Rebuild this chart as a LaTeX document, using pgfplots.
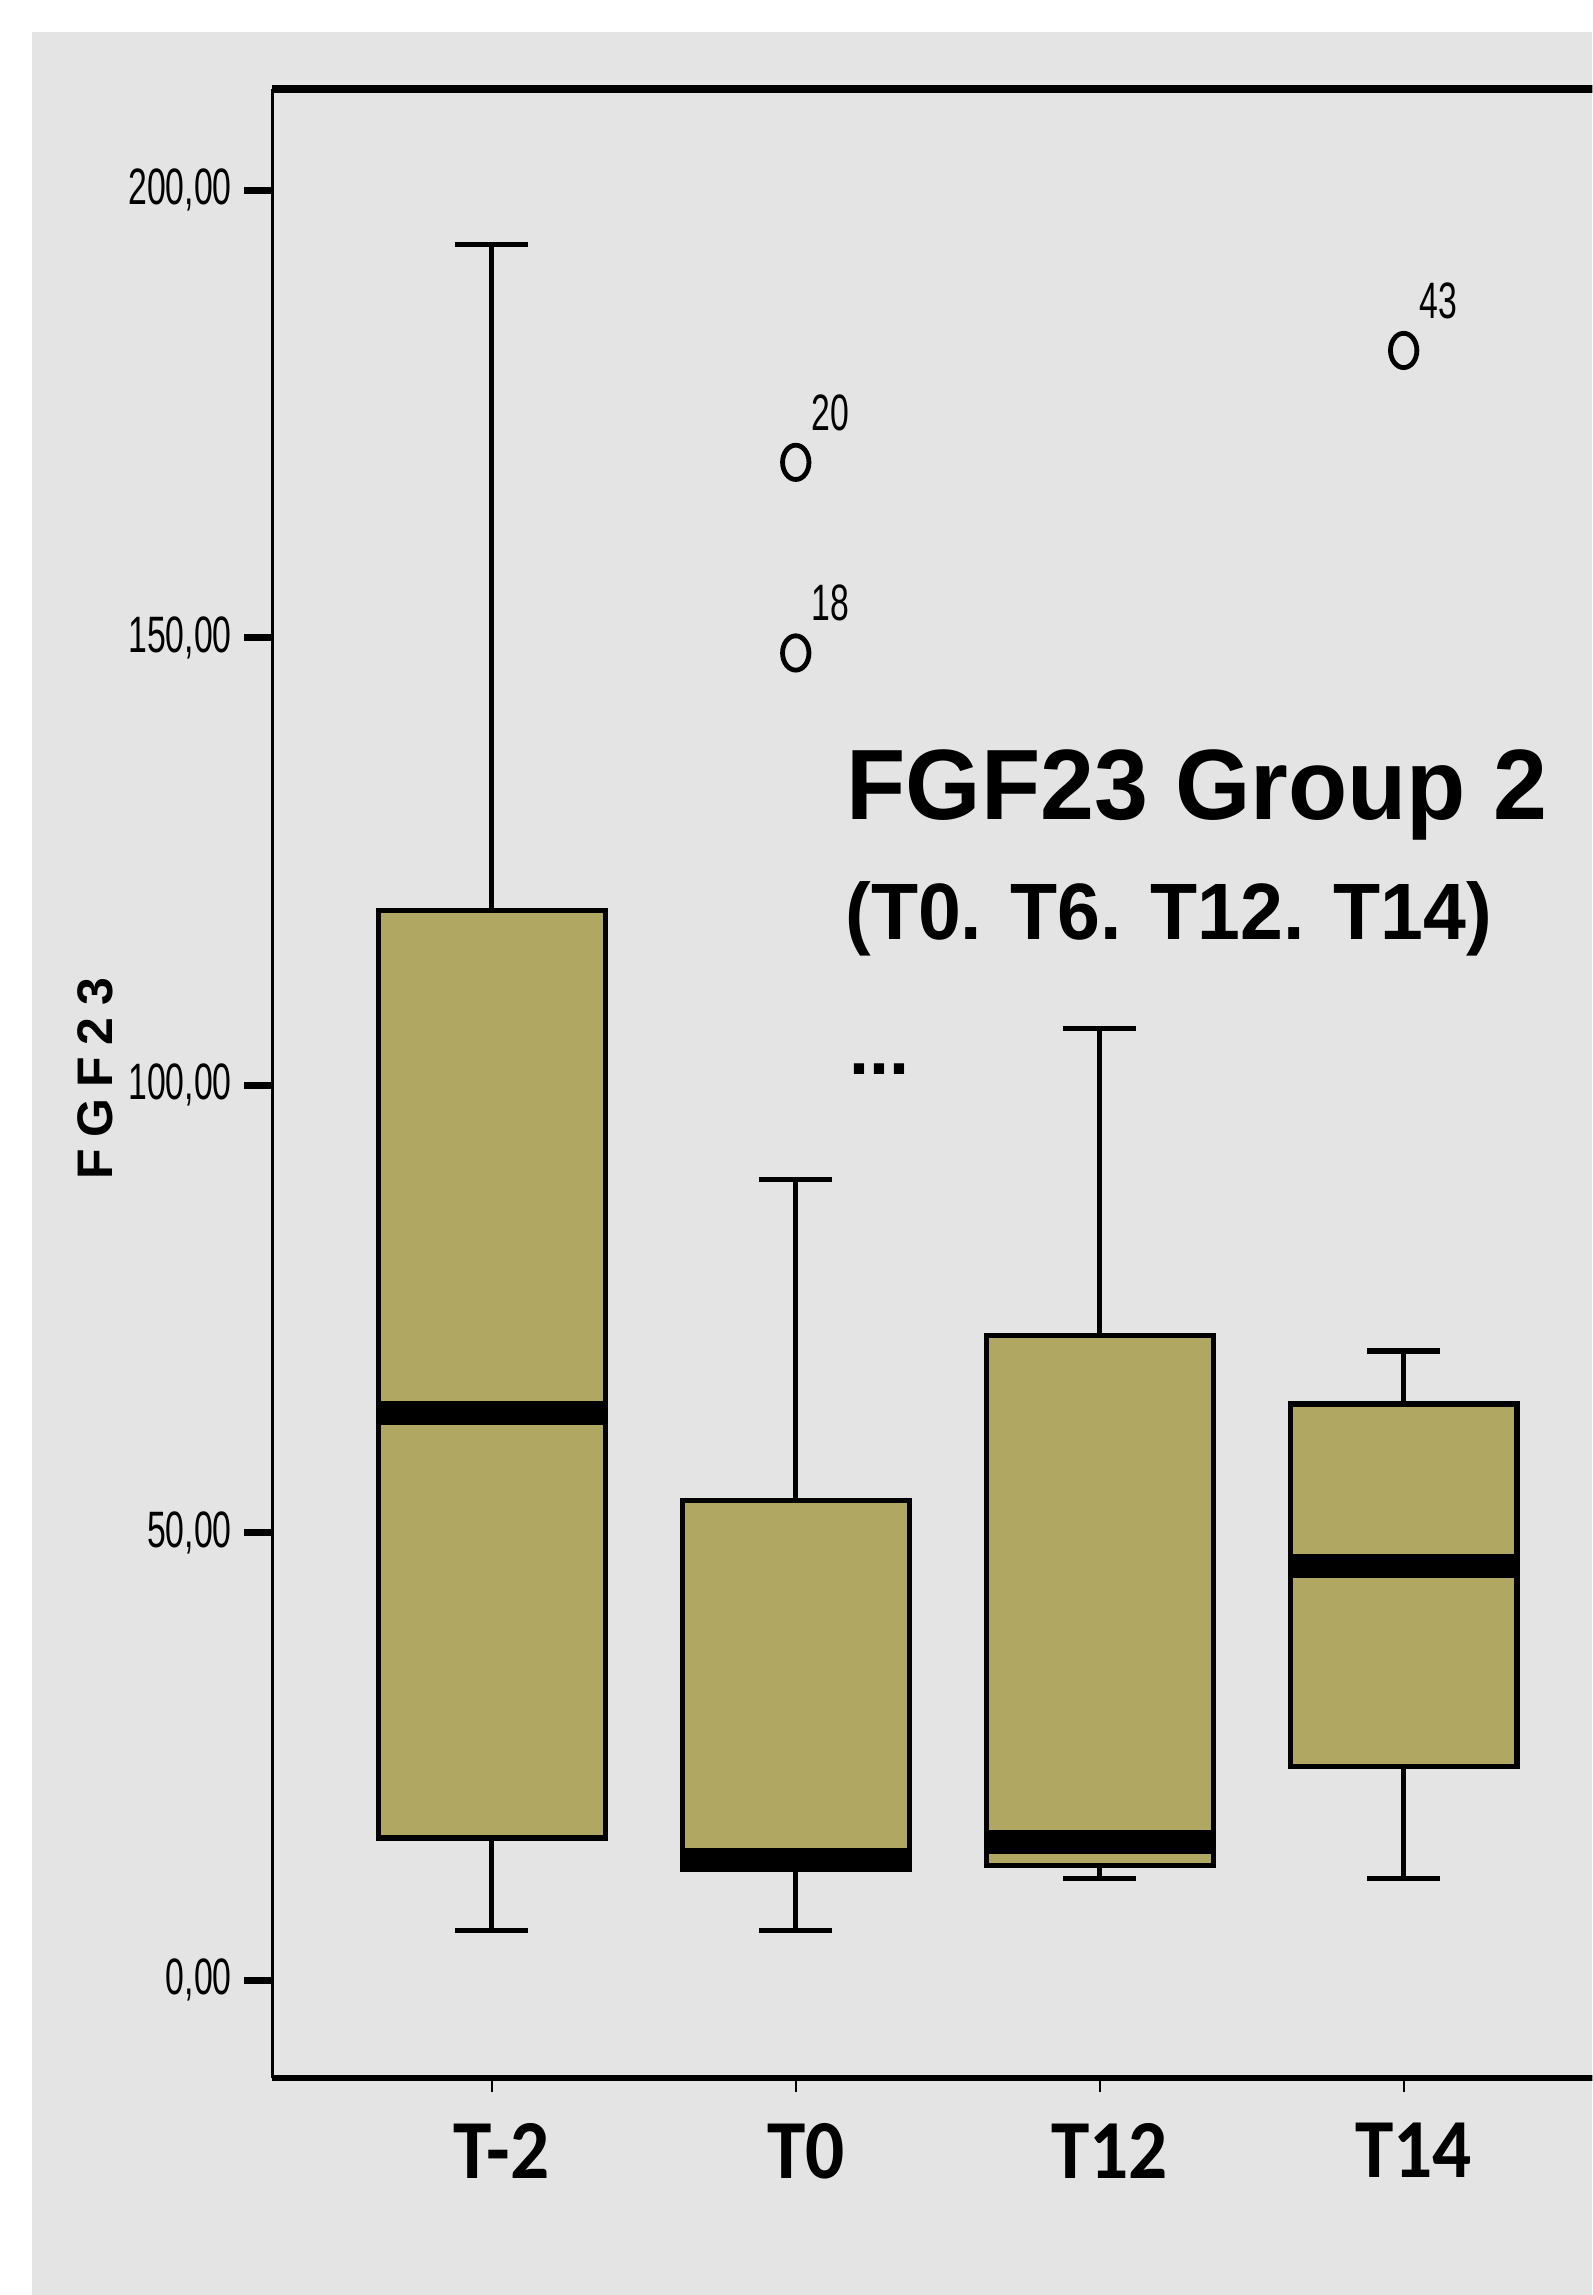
\documentclass[border=0pt]{standalone}
\usepackage{pgfplots}
\pgfplotsset{compat=1.18}
\usepgfplotslibrary{statistics}
\usepackage{fontspec}
\setmainfont{Liberation Sans}
\newfontfamily\carlito{Carlito}
\definecolor{bg}{RGB}{228,228,228}
\definecolor{boxfill}{RGB}{175,167,98}
\begin{document}
\begin{tikzpicture}
\useasboundingbox (0,0) rectangle (398.21pt,573.89pt);
\clip (0,0) rectangle (398.21pt,573.89pt);
\fill[white] (0,0) rectangle (398.21pt,573.89pt);
\fill[bg] (8.05pt,0) rectangle (398.21pt,565.84pt);
\begin{axis}[
  at={(68.08pt,54.17pt)}, anchor=south west,
  width=332.7pt, height=497.39pt, scale only axis,
  xmin=0.2777, xmax=4.6548, ymin=-10.957, ymax=211.28,
  axis line style={draw=none},
  tick align=outside, tick pos=left,
  xtick={1,2,3,4}, xticklabels={T-2,T0,T12,T14},
  ytick={0,50,100,150,200},
  yticklabels={{0,00},{50,00},{100,00},{150,00},{200,00}},
  major tick length=7pt,
  ytick style={line width=1.8pt, black},
  xtick style={line width=0.5pt, black, /pgfplots/major tick length=3.5pt},
  yticklabel style={font=\fontsize{12.8}{13}\selectfont, inner sep=0pt, xshift=-3pt, xscale=0.66},
  xticklabel style={font=\carlito\bfseries\fontsize{21}{22}\selectfont, inner sep=0pt, xshift=2.5pt, yshift=-4pt, xscale=0.92},
  clip=false,
  boxplot/draw direction=y,
  boxplot/box extend=0.746,
  boxplot/whisker extend=0.24,
  boxplot/every median/.style={line width=6pt, black},
  boxplot/every whisker/.style={line width=1.3pt, black},
  boxplot/every box/.style={line width=1.3pt, draw=black, fill=boxfill},
]
\addplot+[mark=none, draw=black, fill=boxfill, boxplot prepared={draw position=1, lower whisker=5.6, lower quartile=15.9, median=63.4, upper quartile=119.5, upper whisker=193.9}] coordinates {};
\addplot+[mark=o, mark size=3.3pt, mark options={line width=1.2pt, yscale=1.3, black}, draw=black, fill=boxfill, boxplot prepared={draw position=2, lower whisker=5.6, lower quartile=12.4, median=13.4, upper quartile=53.6, upper whisker=89.5}] coordinates {(2,169.6) (2,148.3)};
\addplot+[mark=none, draw=black, fill=boxfill, boxplot prepared={draw position=3, lower whisker=11.4, lower quartile=12.8, median=15.4, upper quartile=72.0, upper whisker=106.3}] coordinates {};
\addplot+[mark=o, mark size=3.3pt, mark options={line width=1.2pt, yscale=1.3, black}, draw=black, fill=boxfill, boxplot prepared={draw position=4, lower whisker=11.4, lower quartile=23.9, median=46.3, upper quartile=64.4, upper whisker=70.3}] coordinates {(4,182.1)};
\addplot[only marks, mark=none,
  nodes near coords, point meta=explicit symbolic,
  nodes near coords style={anchor=base west, inner sep=0pt, xshift=3.9pt, yshift=8pt, xscale=0.66, font=\fontsize{12.8}{13}\selectfont, black}]
  coordinates {(2,169.6) [20] (2,148.3) [18] (4,182.1) [43]};
\draw[line width=2pt] (rel axis cs:0,1) -- (rel axis cs:1,1);
\draw[line width=0.7pt] (rel axis cs:0,0) -- (rel axis cs:0,1);
\draw[line width=1.5pt] (rel axis cs:0,0) -- (rel axis cs:1,0);
\end{axis}
\node[rotate=90, font=\bfseries\fontsize{12.5}{13}\selectfont] at (23.8pt,304.1pt) {F\kern2.9pt G\kern2.9pt F\kern2.9pt 2\kern2.9pt 3};
\node[anchor=base west, inner sep=0pt, font=\bfseries\fontsize{25}{26}\selectfont, xscale=0.97] at (211.5pt,368.9pt) {FGF23 Group 2};
\node[anchor=base west, inner sep=0pt, font=\bfseries\fontsize{20}{21}\selectfont, xscale=0.963] at (211.2pt,338.9pt) {(T0. T6. T12. T14)};
\node[anchor=base west, inner sep=0pt, font=\bfseries\fontsize{18}{19}\selectfont] at (212.3pt,305.2pt) {...};
\end{tikzpicture}
\end{document}
